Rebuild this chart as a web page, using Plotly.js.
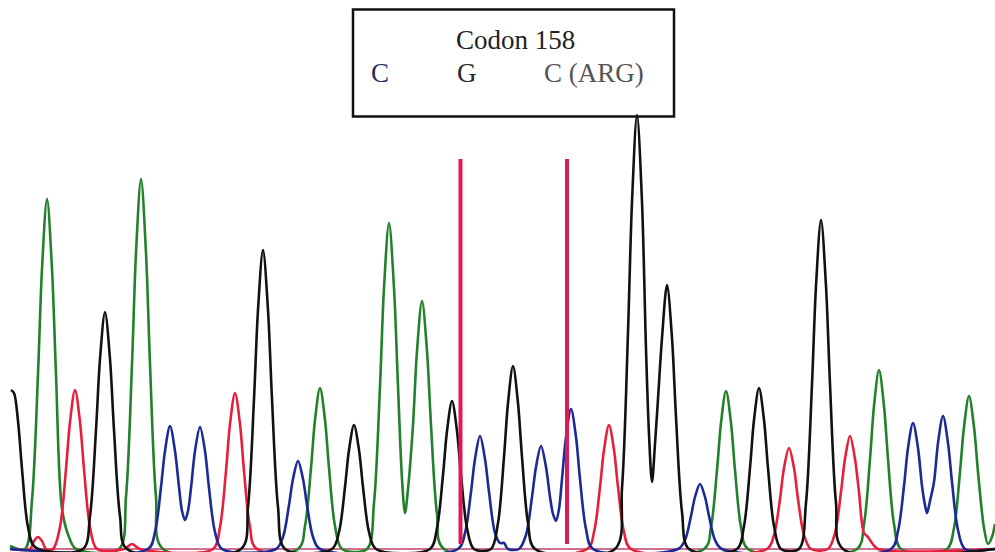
<!DOCTYPE html>
<html>
<head>
<meta charset="utf-8">
<script src="https://cdn.plot.ly/plotly-3.0.1.min.js"></script>
<style>html,body{margin:0;padding:0;background:#fff;}#chart{width:995px;height:552px;}</style>
</head>
<body>
<div id="chart"></div>
<script>
// Trace samples (scan position, signal intensity)
const blackX = [11,14,18,22,28,35, 83,90,96,100,105,110,114,120,127, 241,248,254,258,263,268,272,278,285, 332,339,345,349,354,359,363,369,376, 430,437,443,447,452,457,461,467,474, 491,498,504,508,513,518,522,528,535, 615,622,628,632,637,642,646,649,652,655,658,662,667,672,676,682,689, 737,744,750,754,759,764,768,774,781, 799,806,812,816,821,826,830,836,843, 995];
const blackY = [159,156,128,80,22,2, 0,33,119,190,237,190,119,33,0, 0,42,150,239,299,239,150,42,0, 0,17,62,99,124,99,62,17,0, 0,21,74,118,148,118,74,21,0, 0,26,92,146,183,146,92,26,0, 0,61,217,347,434,347,200,115,67,105,150,211,264,211,132,37,0, 0,23,81,129,161,129,81,23,0, 0,46,165,263,329,263,165,46,0, 0];

const greenX = [10,25,32,38,42,47,52,56,62,69,76, 119,126,132,136,141,146,150,156,163, 298,305,311,315,320,325,329,335,342, 367,374,380,384,389,394,398,402,405,408,413,417,422,427,431,437,444, 704,711,717,721,726,731,735,741,748, 857,864,870,874,879,884,888,894,901, 947,954,960,964,969,974,978,984,988,992,995];
const greenY = [3,0,49,175,280,350,280,175,40,12,0, 0,52,185,296,370,296,185,52,0, 0,23,81,129,161,129,81,23,0, 0,46,163,261,326,261,163,70,36,60,124,198,248,198,124,35,0, 0,22,79,126,158,126,79,22,0, 0,25,90,143,179,143,90,25,0, 0,21,77,122,153,122,77,21,5,12,25];

const redX = [10,30,34,38,42,46, 53,60,66,70,75,80,84,90,97, 124,132,140, 213,220,226,230,235,240,244,250,257, 587,594,600,604,609,614,618,624,631, 767,774,780,784,789,794,798,804,811, 828,835,841,845,850,855,859,864,868,872,878, 995];
const redY = [0,0,8,12,8,0, 0,22,80,127,159,127,80,22,0, 0,5,0, 0,22,78,125,156,125,78,22,0, 0,17,62,99,124,99,62,17,0, 0,14,50,81,101,81,50,14,0, 0,16,57,90,113,90,57,16,12,6,0, 0];

const blueX = [10, 148,155,161,165,170,175,179,182,185,188,191,195,200,205,209,215,222, 276,283,289,293,298,303,307,313,320, 458,465,471,475,480,485,489,495,500,504,508, 519,526,532,536,541,546,550,553,556,559,562,566,571,576,580,586,593, 678,685,691,695,700,705,709,715,722, 891,898,904,908,913,918,922,925,927,930,934,938,943,948,952,958,965, 995];
const blueY = [0, 0,17,62,98,123,98,62,38,29,38,61,98,122,98,61,17,0, 0,12,44,70,88,70,44,12,0, 0,16,57,90,113,90,57,16,6,6,0, 0,14,52,82,103,82,52,35,28,40,70,112,140,112,70,20,0, 0,9,33,52,65,52,33,9,0, 0,18,63,101,126,101,63,44,36,48,67,106,133,106,67,19,0, 0];

const baselineX = [10, 995];
const codonMarkX = [460.5, 567];
const codonMarkRange = [5, 390];

const codonTitle = "Codon 158";
const codonBases = ["C", "G", "C (ARG)"];
const codonBaseX = [380, 467, 594];
const codonBaseColors = ["#2b2d62", "#2a2a2a", "#555555"];

const lineW = 2.6;
function traceLine(x, y, color, w) {
  return {x: x, y: y, type: 'scatter', mode: 'lines', hoverinfo: 'skip',
          line: {color: color, width: w, shape: 'spline', smoothing: 0.9}};
}

const markX = [], markY = [];
codonMarkX.forEach(function (v) { markX.push(v, v, null); markY.push(codonMarkRange[0], codonMarkRange[1], null); });

const data = [
  {x: baselineX, y: [0, 0], type: 'scatter', mode: 'lines', line: {color: '#c2416e', width: 1.6}, hoverinfo: 'skip'},
  traceLine(greenX, greenY, '#23812c', lineW),
  traceLine(redX, redY, '#e5203d', lineW),
  traceLine(blueX, blueY, '#1d2a96', lineW),
  traceLine(blackX, blackY, '#111111', lineW),
  {x: markX, y: markY, type: 'scatter', mode: 'lines', line: {color: '#dc1a58', width: 4}, hoverinfo: 'skip'}
];

const serif = "Liberation Serif, Times New Roman, serif";
const annotations = [
  {x: 515, y: 509, xref: 'x', yref: 'y', text: codonTitle, showarrow: false,
   font: {family: serif, size: 27, color: '#222222'}, xanchor: 'center', yanchor: 'middle'}
];
codonBases.forEach(function (b, i) {
  annotations.push({x: codonBaseX[i], y: 476, xref: 'x', yref: 'y', text: b, showarrow: false,
    font: {family: serif, size: 27, color: codonBaseColors[i]}, xanchor: 'center', yanchor: 'middle'});
});

const layout = {
  width: 995, height: 552,
  margin: {l: 0, r: 0, t: 0, b: 0, pad: 0},
  paper_bgcolor: '#ffffff', plot_bgcolor: '#ffffff',
  showlegend: false,
  xaxis: {range: [0, 995], visible: false, fixedrange: true},
  yaxis: {range: [-3, 549], visible: false, fixedrange: true},
  shapes: [
    {type: 'rect', xref: 'x', yref: 'y', x0: 353, x1: 674, y0: 432.5, y1: 539.5,
     line: {color: '#111111', width: 2.5}, fillcolor: 'rgba(255,255,255,0)'}
  ],
  annotations: annotations
};

Plotly.newPlot('chart', data, layout, {displayModeBar: false, staticPlot: true});
</script>
</body>
</html>
